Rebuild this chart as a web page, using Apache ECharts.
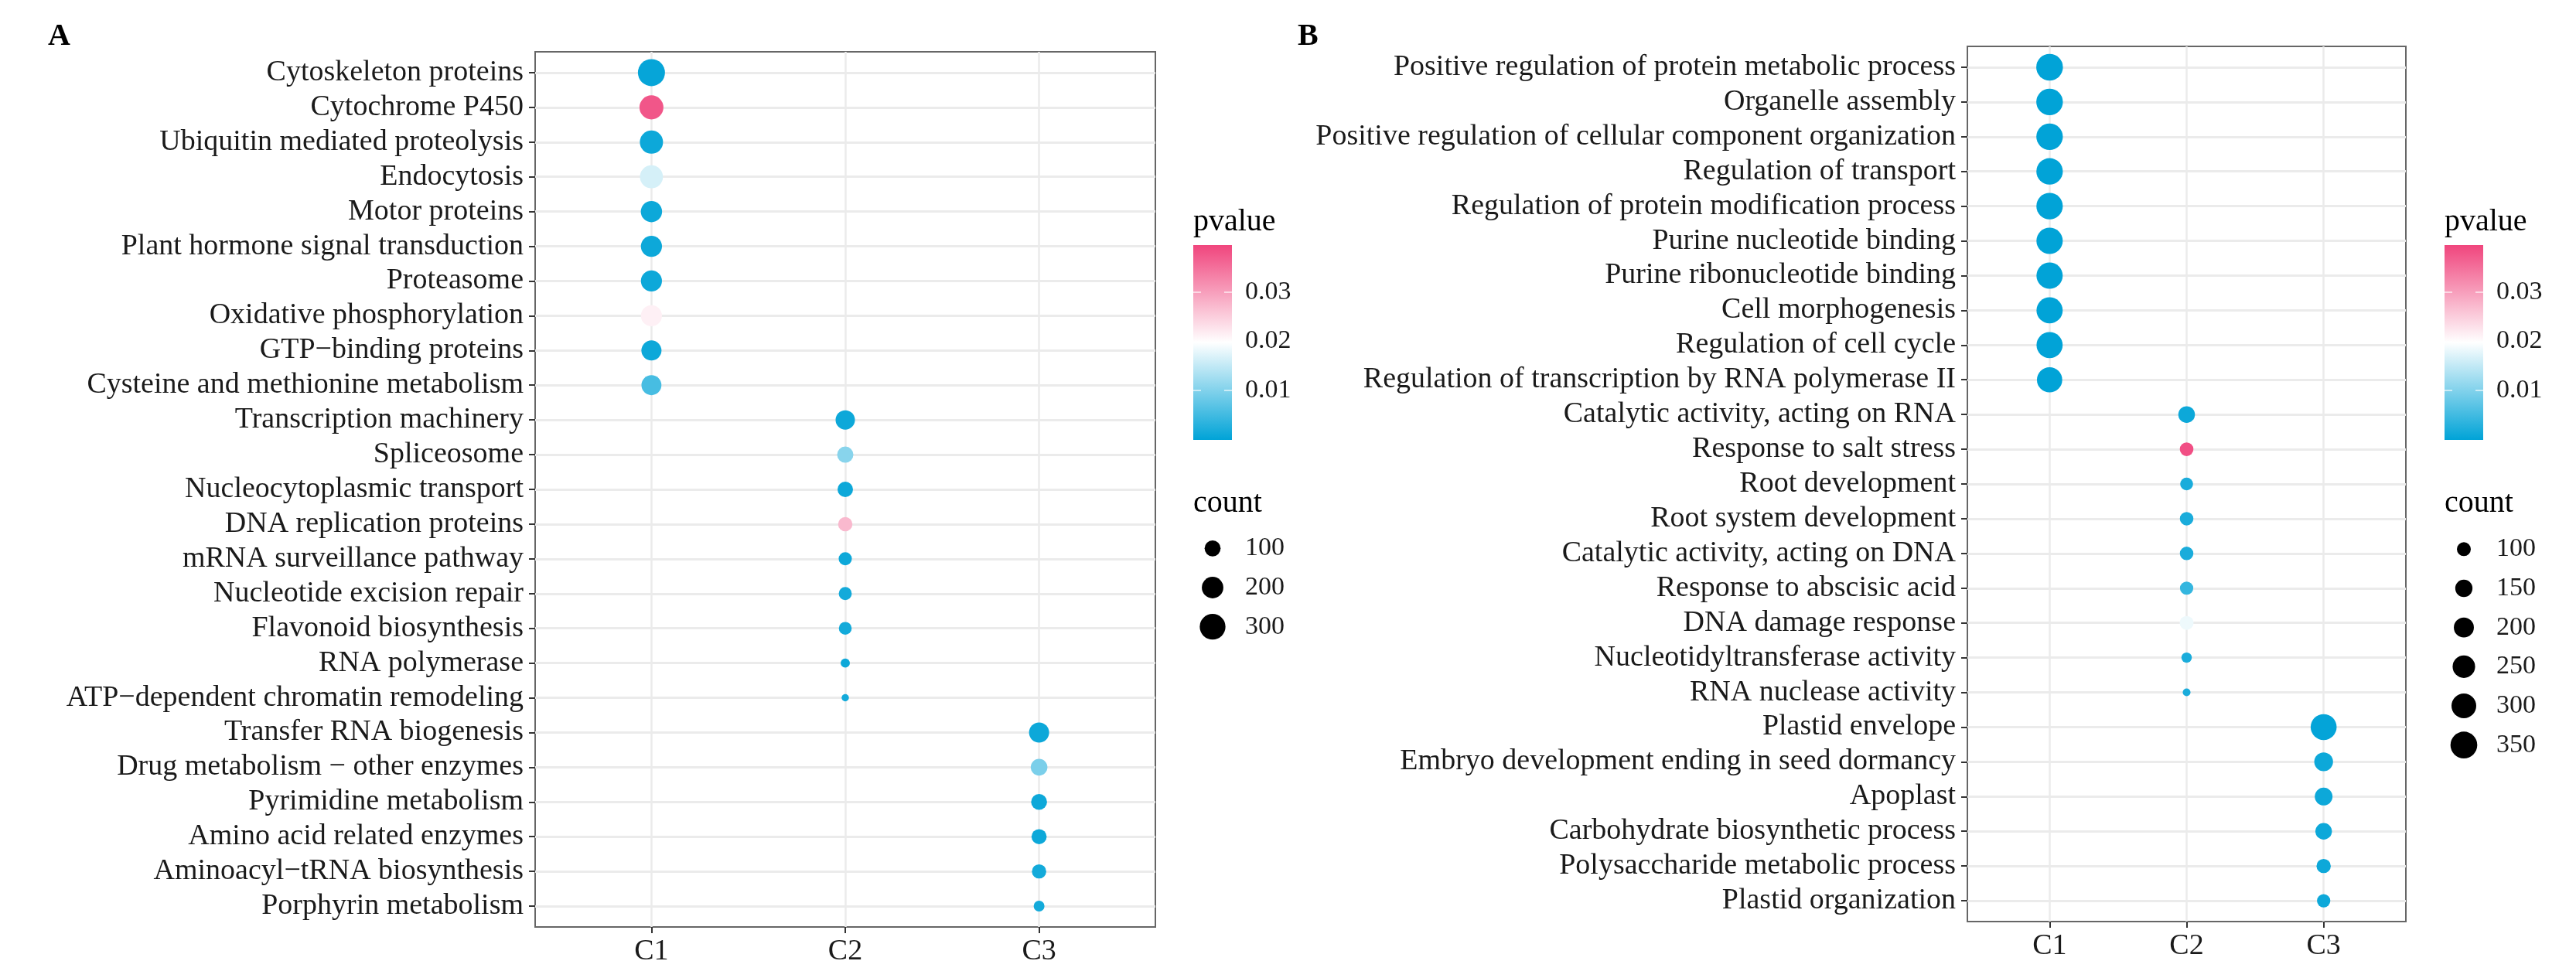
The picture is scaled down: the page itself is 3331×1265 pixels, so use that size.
<!DOCTYPE html>
<html>
<head>
<meta charset="utf-8">
<script src="https://cdn.jsdelivr.net/npm/echarts@6/dist/echarts.min.js"></script>
<style>
html,body{margin:0;padding:0;background:#fff;}
#main{width:3331px;height:1265px;}
</style>
</head>
<body>
<div id="main"></div>
<script>
/* clusters on the x axis */
var clusters = ['C1', 'C2', 'C3'];

/* A : KEGG / BRITE terms */
var termsA = ['Cytoskeleton proteins', 'Cytochrome P450', 'Ubiquitin mediated proteolysis', 'Endocytosis',
    'Motor proteins', 'Plant hormone signal transduction', 'Proteasome', 'Oxidative phosphorylation',
    'GTP\u2212binding proteins', 'Cysteine and methionine metabolism', 'Transcription machinery', 'Spliceosome',
    'Nucleocytoplasmic transport', 'DNA replication proteins', 'mRNA surveillance pathway',
    'Nucleotide excision repair', 'Flavonoid biosynthesis', 'RNA polymerase',
    'ATP\u2212dependent chromatin remodeling', 'Transfer RNA biogenesis', 'Drug metabolism \u2212 other enzymes',
    'Pyrimidine metabolism', 'Amino acid related enzymes', 'Aminoacyl\u2212tRNA biosynthesis', 'Porphyrin metabolism'];
var groupA = ['C1','C1','C1','C1','C1','C1','C1','C1','C1','C1',
    'C2','C2','C2','C2','C2','C2','C2','C2','C2',
    'C3','C3','C3','C3','C3','C3'];
var pvalueA = [0.0005, 0.0377, 0.001, 0.0165, 0.001, 0.001, 0.001, 0.0213, 0.001, 0.0055,
    0.001, 0.0105, 0.001, 0.0272, 0.001, 0.0015, 0.0015, 0.001, 0.0015,
    0.001, 0.0095, 0.001, 0.001, 0.0015, 0.0015];
var countA = [335, 256, 237, 232, 195, 192, 190, 190, 171, 168,
    156, 104, 92, 76, 62, 60, 58, 24, 12,
    171, 110, 98, 87, 76, 37];

/* B : GO terms */
var termsB = ['Positive regulation of protein metabolic process', 'Organelle assembly',
    'Positive regulation of cellular component organization', 'Regulation of transport',
    'Regulation of protein modification process', 'Purine nucleotide binding', 'Purine ribonucleotide binding',
    'Cell morphogenesis', 'Regulation of cell cycle', 'Regulation of transcription by RNA polymerase II',
    'Catalytic activity, acting on RNA', 'Response to salt stress', 'Root development', 'Root system development',
    'Catalytic activity, acting on DNA', 'Response to abscisic acid', 'DNA damage response',
    'Nucleotidyltransferase activity', 'RNA nuclease activity', 'Plastid envelope',
    'Embryo development ending in seed dormancy', 'Apoplast', 'Carbohydrate biosynthetic process',
    'Polysaccharide metabolic process', 'Plastid organization'];
var groupB = ['C1','C1','C1','C1','C1','C1','C1','C1','C1','C1',
    'C2','C2','C2','C2','C2','C2','C2','C2','C2',
    'C3','C3','C3','C3','C3','C3'];
var pvalueB = [0.0001, 0.0001, 0.0001, 0.0001, 0.0001, 0.0001, 0.0001, 0.0001, 0.0001, 0.0001,
    0.001, 0.0385, 0.002, 0.002, 0.002, 0.004, 0.0184, 0.002, 0.002,
    0.0003, 0.001, 0.001, 0.001, 0.001, 0.001];
var countB = [348, 345, 343, 342, 340, 338, 336, 335, 333, 313,
    140, 96, 86, 95, 95, 92, 100, 58, 34,
    330, 176, 158, 139, 105, 92];

/* legends */
var pvalueTicks = [0.01, 0.02, 0.03];
var countBreaksA = [100, 200, 300];
var countBreaksB = [100, 150, 200, 250, 300, 350];

var pMax = 0.0395;
var lowCol = '#00A3D7', midCol = '#FFFFFF', highCol = '#F0457D';
var serif = 'Liberation Serif';

function sizeA(c) { return 1.72 * Math.sqrt(c) + 3.5; }
function sizeB(c) { return 1.91 * Math.sqrt(c) - 1.1; }

function rows(terms, groups, pv, cnt) {
    return terms.map(function (t, i) {
        return [clusters.indexOf(groups[i]), i, pv[i], cnt[i]];
    });
}
function idx(n) { var a = []; for (var i = 0; i < n; i++) a.push(i); return a; }

function plotX(gi) {
    return {
        type: 'value', gridIndex: gi, min: -0.6, max: 2.6,
        axisLine: {show: false, onZero: false},
        axisTick: {show: true, customValues: [0, 1, 2], length: 8, lineStyle: {color: '#333', width: 2}},
        axisLabel: {customValues: [0, 1, 2], margin: 13, fontFamily: serif, fontSize: 38, color: '#1a1a1a',
            formatter: function (v) { return clusters[Math.round(v)]; }},
        splitLine: {show: true, lineStyle: {color: '#ebebeb', width: 2.5}}
    };
}
function plotY(gi, terms) {
    return {
        type: 'value', gridIndex: gi, min: -0.6, max: terms.length - 0.4, inverse: true,
        axisLine: {show: false, onZero: false},
        axisTick: {show: true, customValues: idx(terms.length), length: 8, lineStyle: {color: '#333', width: 2}},
        axisLabel: {customValues: idx(terms.length), margin: 15, fontFamily: serif, fontSize: 38, color: '#1a1a1a',
            formatter: function (v) { return terms[Math.round(v)]; }},
        splitLine: {show: true, lineStyle: {color: '#ebebeb', width: 3}}
    };
}
function barX(gi) {
    return {type: 'category', gridIndex: gi, data: ['p'], show: false};
}
function barY(gi, pos, withLabels) {
    return {
        type: 'value', gridIndex: gi, min: 0, max: pMax, position: pos, z: 5,
        axisLine: {show: false, onZero: false}, splitLine: {show: false},
        axisTick: {show: true, inside: true, customValues: pvalueTicks, length: 10,
            lineStyle: {color: 'rgba(255,255,255,0.8)', width: 1.5}},
        axisLabel: {show: withLabels, customValues: pvalueTicks, margin: 17, fontFamily: serif, fontSize: 34,
            color: '#1a1a1a', formatter: function (v) { return v.toFixed(2); }}
    };
}
function legX(gi) {
    return {type: 'value', gridIndex: gi, min: -1, max: 1, show: false};
}
function legY(gi, breaks) {
    return {
        type: 'category', gridIndex: gi, data: breaks.map(String), inverse: true, position: 'right',
        axisLine: {show: false, onZero: false}, axisTick: {show: false}, splitLine: {show: false},
        axisLabel: {margin: 22, fontFamily: serif, fontSize: 34, color: '#1a1a1a'}
    };
}

var barGradient = new echarts.graphic.LinearGradient(0, 0, 0, 1, [
    {offset: 0, color: highCol}, {offset: 0.5, color: midCol}, {offset: 1, color: lowCol}
]);

var titleFont = {fontFamily: serif, fontSize: 40, fontWeight: 'normal', color: '#000'};
var panelFont = {fontFamily: serif, fontSize: 40, fontWeight: 'bold', color: '#000'};

var myChart = echarts.init(document.getElementById('main'), null, {renderer: 'canvas'});
myChart.setOption({
    backgroundColor: '#fff',
    animation: false,
    title: [
        {text: 'A', left: 62, top: 28, padding: 0, textStyle: panelFont},
        {text: 'B', left: 1678, top: 28, padding: 0, textStyle: panelFont},
        {text: 'pvalue', left: 1543, top: 267, padding: 0, textStyle: titleFont},
        {text: 'count', left: 1543, top: 631, padding: 0, textStyle: titleFont},
        {text: 'pvalue', left: 3161, top: 267, padding: 0, textStyle: titleFont},
        {text: 'count', left: 3161, top: 631, padding: 0, textStyle: titleFont}
    ],
    grid: [
        {left: 692, right: 1837, top: 67, bottom: 66, show: true, borderColor: '#666', borderWidth: 2, backgroundColor: '#fff'},
        {left: 2544, right: 220, top: 60, bottom: 73, show: true, borderColor: '#666', borderWidth: 2, backgroundColor: '#fff'},
        {left: 1543, right: 1738, top: 317, bottom: 696},
        {left: 3161, right: 120, top: 317, bottom: 696},
        {left: 1548, right: 1743, top: 684, bottom: 429},
        {left: 3166, right: 125, top: 685, bottom: 276}
    ],
    xAxis: [plotX(0), plotX(1), barX(2), barX(3), legX(4), legX(5)],
    yAxis: [
        plotY(0, termsA), plotY(1, termsB),
        barY(2, 'right', true), barY(2, 'left', false),
        barY(3, 'right', true), barY(3, 'left', false),
        legY(4, countBreaksA), legY(5, countBreaksB)
    ],
    visualMap: [{
        type: 'continuous', show: false, min: 0, max: pMax, dimension: 2, seriesIndex: [0, 1],
        inRange: {color: [lowCol, midCol, highCol]}
    }],
    series: [
        {type: 'scatter', xAxisIndex: 0, yAxisIndex: 0, data: rows(termsA, groupA, pvalueA, countA),
            symbolSize: function (d) { return sizeA(d[3]); }, itemStyle: {opacity: 1}, z: 3},
        {type: 'scatter', xAxisIndex: 1, yAxisIndex: 1, data: rows(termsB, groupB, pvalueB, countB),
            symbolSize: function (d) { return sizeB(d[3]); }, itemStyle: {opacity: 1}, z: 3},
        {type: 'bar', xAxisIndex: 2, yAxisIndex: 2, data: [pMax], barWidth: '100%', silent: true,
            itemStyle: {color: barGradient}},
        {type: 'bar', xAxisIndex: 3, yAxisIndex: 4, data: [pMax], barWidth: '100%', silent: true,
            itemStyle: {color: barGradient}},
        {type: 'scatter', xAxisIndex: 4, yAxisIndex: 6, silent: true,
            data: countBreaksA.map(function (c) { return [0, String(c), c]; }),
            symbolSize: function (d) { return sizeA(d[2]); }, itemStyle: {color: '#000', opacity: 1}},
        {type: 'scatter', xAxisIndex: 5, yAxisIndex: 7, silent: true,
            data: countBreaksB.map(function (c) { return [0, String(c), c]; }),
            symbolSize: function (d) { return sizeB(d[2]); }, itemStyle: {color: '#000', opacity: 1}}
    ]
});
</script>
</body>
</html>
